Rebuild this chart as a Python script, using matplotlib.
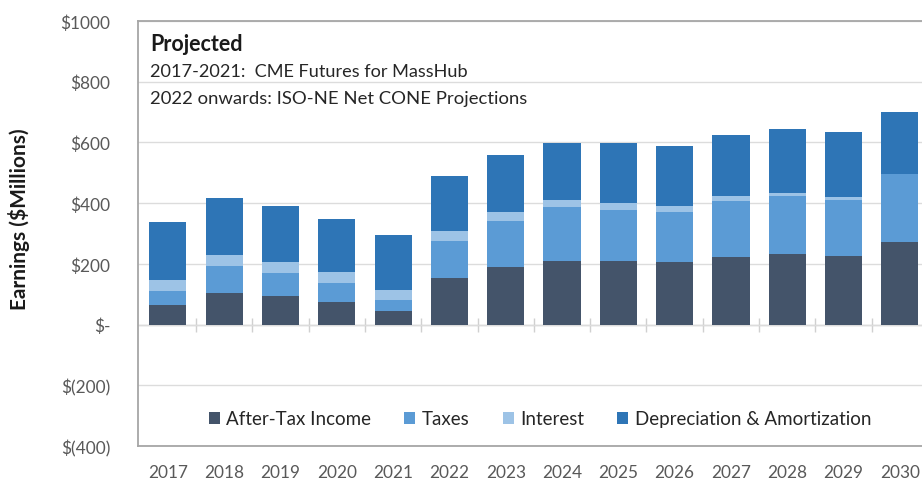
import matplotlib.pyplot as plt
import numpy as np

plt.rcParams['font.family'] = ['Lato', 'DejaVu Sans']

# data ($ millions)
years = ['2017', '2018', '2019', '2020', '2021', '2022', '2023',
         '2024', '2025', '2026', '2027', '2028', '2029', '2030']
after_tax = [63, 105, 94, 74, 44, 153, 191, 211, 209, 206, 224, 233, 227, 273]
taxes = [47, 87, 76, 63, 38, 123, 151, 175, 168, 166, 182, 189, 184, 222]
interest = [38, 38, 36, 36, 33, 33, 29, 25, 22, 17, 16, 10, 10, 0]
dep_amort = [189, 186, 183, 175, 180, 181, 186, 188, 198, 199, 204, 213, 214, 204]

series = [
    ('After-Tax Income', after_tax, '#44546A'),
    ('Taxes', taxes, '#5B9BD5'),
    ('Interest', interest, '#9DC3E6'),
    ('Depreciation & Amortization', dep_amort, '#2E75B6'),
]

fig = plt.figure(figsize=(9.22, 4.85), dpi=100)
# axes runs a bit past the right edge, like the cropped original
ax = fig.add_axes([0.1497, 0.0784, 0.855, 0.8762])

x = np.arange(len(years))
bottom = np.zeros(len(years))
for name, vals, col in series:
    vals = np.array(vals, dtype=float)
    ax.bar(x, vals, 0.66, bottom=bottom, color=col, label=name, zorder=3)
    bottom += vals

ax.set_xlim(-0.53, 13.47)
ax.set_ylim(-400, 1000)
ax.set_yticks(np.arange(-400, 1001, 200))
ax.set_yticklabels(['$(400)', '$(200)', '$-', '$200', '$400', '$600', '$800', '$1000'])
ax.set_xticks(x)
ax.set_xticklabels(years)
ax.tick_params(axis='both', length=0, labelsize=12.4, colors='#595959')
ax.tick_params(axis='y', pad=20)
ax.tick_params(axis='x', pad=13)

ax.grid(axis='y', color='#DCDCDC', linewidth=1, zorder=0)
ax.axhline(0, color='#D0D0D0', linewidth=1, zorder=1)
# category separator ticks on the zero line
ax.vlines(x[:-1] + 0.5, -25, 20, color='#D0D0D0', linewidth=1, zorder=1)

for s in ['left', 'top', 'bottom']:
    ax.spines[s].set_color('#A6A6A6')
    ax.spines[s].set_linewidth(1.3)
ax.spines['right'].set_visible(False)

ax.text(0.015, 0.946, 'Projected', transform=ax.transAxes, fontsize=15.5,
        fontweight='bold', color='#1A1A1A', va='center', ha='left')
ax.text(0.015, 0.882, '2017-2021:  CME Futures for MassHub', transform=ax.transAxes,
        fontsize=13.1, color='#262626', va='center', ha='left')
ax.text(0.015, 0.819, '2022 onwards: ISO-NE Net CONE Projections', transform=ax.transAxes,
        fontsize=13.3, color='#262626', va='center', ha='left')

fig.text(0.0206, 0.548, 'Earnings ($Millions)', rotation=90, fontsize=15,
         fontweight='bold', color='#1A1A1A', va='center', ha='center')

leg = ax.legend(loc='center', bbox_to_anchor=(0.51, 0.0635), ncol=4, frameon=False,
                fontsize=13.5, handlelength=0.6, handleheight=0.6, handletextpad=0.35,
                columnspacing=1.75)
for t in leg.get_texts():
    t.set_color('#262626')

fig.savefig('out.png', dpi=100)
